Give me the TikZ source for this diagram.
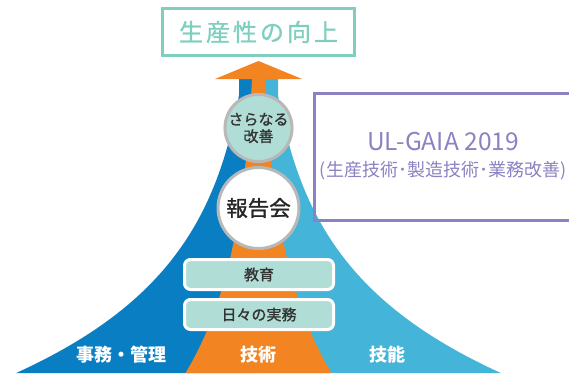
\documentclass[tikz,border=0pt]{standalone}
\usepackage{fontspec}
\setmainfont{Noto Sans CJK JP}
\newfontfamily\medfont[FakeBold=1.2]{Noto Sans CJK JP}
\definecolor{dblue}{HTML}{0A7EC3}
\definecolor{lblue}{HTML}{44B4D8}
\definecolor{orng}{HTML}{F28522}
\definecolor{tealc}{HTML}{7FCFC0}
\definecolor{boxfill}{HTML}{B0DDD5}
\definecolor{ringgray}{HTML}{B8B8B8}
\definecolor{purp}{HTML}{8A82C2}
\definecolor{darktxt}{HTML}{333333}
\tikzset{
  ring/.style={circle, draw=ringgray, line width=3pt, inner sep=0pt, align=center, text=darktxt},
  stepbox/.style={draw=white, line width=3pt, fill=boxfill, rounded corners=6pt,
     minimum width=149pt, minimum height=30pt, inner sep=0pt, text=darktxt,
     font=\medfont\fontsize{15pt}{15pt}\selectfont},
  mlabel/.style={text=white, font=\bfseries\fontsize{18pt}{18pt}\selectfont, inner sep=0pt},
}
\begin{document}
\begin{tikzpicture}[x=1pt,y=-1pt]
\useasboundingbox (0,0) rectangle (569,376);
\clip (0,0) rectangle (569,376);
% mountain halves
\fill[dblue] (258.5,79) -- (239,79) -- (239,95)
  -- plot[domain=95:373,samples=80] ({258.5-19.5*exp(0.00906*(\x-95))},\x)
  -- (258.5,373) -- cycle;
\fill[lblue] (258.5,79) -- (278,79) -- (278,95)
  -- plot[domain=95:373,samples=80] ({258.5+19.5*exp(0.00906*(\x-95))},\x)
  -- (258.5,373) -- cycle;
% orange core
\fill[orng] plot[domain=79:373,samples=80] ({258.5-6.5*exp(0.00823*(\x-79))},\x)
  -- plot[domain=373:79,samples=80] ({258.5+6.5*exp(0.00823*(\x-79))},\x) -- cycle;
% arrow head
\fill[orng] (215,79) -- (258.5,61) -- (302,79) -- cycle;
% title
\node[draw=tealc, line width=3pt, minimum width=192pt, minimum height=47pt, inner sep=0pt,
  text=tealc, font=\medfont\fontsize{24pt}{24pt}\selectfont] (title) at (258.5,32)
  {生\hspace{3pt}産\hspace{3pt}性\hspace{3pt}の\hspace{3pt}向\hspace{3pt}上};
% circles
\node[ring, fill=boxfill, minimum size=67pt, font=\medfont\fontsize{15pt}{17pt}\selectfont] (kaizen) at (258.5,128)
  {さらなる\\改善};
\node[ring, fill=white, minimum size=81pt, font=\medfont\fontsize{21.5pt}{21.5pt}\selectfont, text=black!85] (houkoku) at (258.5,208)
  {報告会};
% boxes
\node[stepbox] (kyouiku) at (259,274.5) {教育};
\node[stepbox] (jitsumu) at (259,314.5) {日々の実務};
% labels
\node[mlabel] (jimu) at (121.5,355) {事務・管理};
\node[mlabel] (gijutsu) at (258.5,355) {技術};
\node[mlabel] (ginou) at (387.5,355) {技能};
% purple box
\draw[purp, line width=3pt] (314.5,93.5) rectangle (575,220.5);
\node[text=purp, font=\fontsize{24.5pt}{24.5pt}\selectfont, inner sep=0pt] (gaia) at (443,142) {UL-GAIA 2019};
\node[text=purp, font=\fontsize{18pt}{18pt}\selectfont, inner sep=0pt] (gaiasub) at (443,171)
  {(生産技術･製造技術･業務改善)};
\end{tikzpicture}
\end{document}
